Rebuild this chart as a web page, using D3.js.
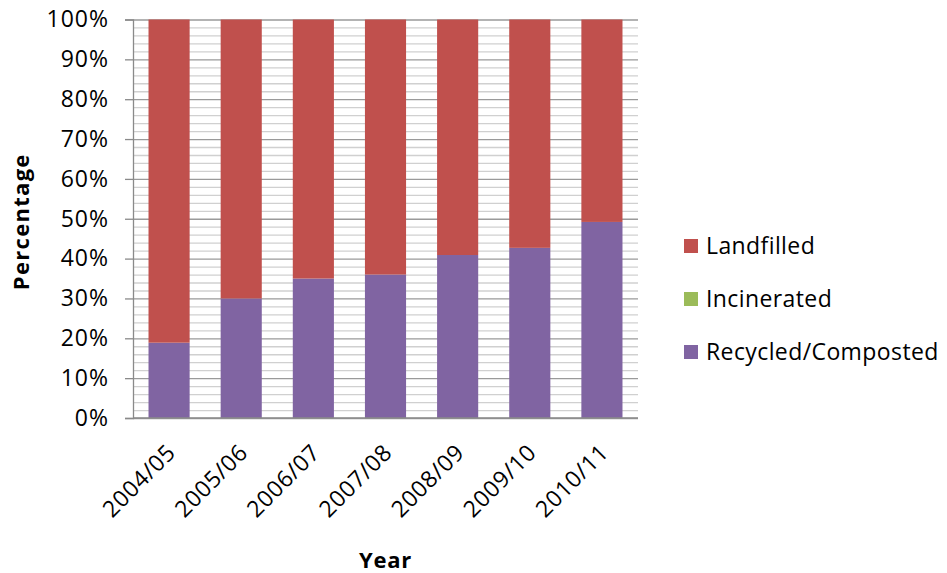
<!DOCTYPE html>
<html>
<head>
<meta charset="utf-8">
<script src="https://cdn.jsdelivr.net/npm/d3@7"></script>
<style>
  html, body { margin: 0; padding: 0; background: #fff; }
  svg { display: block; }
</style>
</head>
<body>
<div id="chart"></div>
<script>
// stacked 100% bars — waste by destination per year

const YEARS       = ['2004/05', '2005/06', '2006/07', '2007/08', '2008/09', '2009/10', '2010/11'];
const RECYCLED    = [18.9, 30.0, 35.0, 36.0, 40.9, 42.7, 49.2];
const INCINERATED = [0, 0, 0, 0, 0, 0, 0];
const LANDFILLED  = [81.1, 70.0, 65.0, 64.0, 59.1, 57.3, 50.8];
const Y_TICKS     = [0, 10, 20, 30, 40, 50, 60, 70, 80, 90, 100];
const LEGEND      = ['Landfilled', 'Incinerated', 'Recycled/Composted'];

const COLORS = {
  'Landfilled':         '#C0504D',
  'Incinerated':        '#9BBB59',
  'Recycled/Composted': '#8064A2'
};

const FONT = "'Open Sans', 'Liberation Sans', sans-serif";

const W = 947, H = 573;
const pl = 133, pr = 638, pt = 19.5, pb = 418;

const rows = YEARS.map((y, i) => ({
  year: y,
  'Recycled/Composted': RECYCLED[i],
  'Incinerated':        INCINERATED[i],
  'Landfilled':         LANDFILLED[i]
}));

const svg = d3.select('#chart').append('svg')
  .attr('width', W)
  .attr('height', H)
  .attr('viewBox', `0 0 ${W} ${H}`);

const x = d3.scaleBand().domain(YEARS).range([pl, pr])
  .paddingInner(0.43).paddingOuter(0.215);
const y = d3.scaleLinear().domain([0, 100]).range([pb, pt]);

// minor grid (every 2%)
const minor = d3.range(0, 101, 2).filter(v => v % 10 !== 0);
svg.append('g')
  .attr('transform', `translate(${pl},0)`)
  .call(d3.axisLeft(y).tickValues(minor).tickSize(-(pr - pl)).tickFormat(''))
  .call(g => g.select('.domain').remove())
  .call(g => g.selectAll('.tick line').attr('stroke', '#d0d0d0').attr('stroke-width', 1.3));

// major grid
svg.append('g')
  .attr('transform', `translate(${pl},0)`)
  .call(d3.axisLeft(y).tickValues(Y_TICKS).tickSize(-(pr - pl)).tickFormat(''))
  .call(g => g.select('.domain').remove())
  .call(g => g.selectAll('.tick line').attr('stroke', '#9a9a9a').attr('stroke-width', 1.3));

// stacked bars
const stack = d3.stack().keys(['Recycled/Composted', 'Incinerated', 'Landfilled']);
svg.append('g')
  .selectAll('g')
  .data(stack(rows))
  .enter().append('g')
  .attr('fill', d => COLORS[d.key])
  .selectAll('rect')
  .data(d => d)
  .enter().append('rect')
  .attr('x', d => x(d.data.year))
  .attr('y', d => y(d[1]))
  .attr('width', x.bandwidth())
  .attr('height', d => y(d[0]) - y(d[1]));

// y axis
svg.append('g')
  .attr('transform', `translate(${pl},0)`)
  .call(d3.axisLeft(y).tickValues(Y_TICKS).tickSize(8).tickPadding(16).tickFormat(d => d + '%'))
  .call(g => g.select('.domain').attr('stroke', '#8a8a8a').attr('stroke-width', 1.3))
  .call(g => g.selectAll('.tick line').attr('stroke', '#8a8a8a').attr('stroke-width', 1.3))
  .call(g => g.selectAll('.tick text')
    .attr('fill', '#000').attr('font-size', '23px').attr('letter-spacing', '1px')
    .attr('font-family', FONT));

// x axis
svg.append('g')
  .attr('transform', `translate(0,${pb})`)
  .call(d3.axisBottom(x).tickSize(0).tickPadding(0))
  .call(g => g.select('.domain').attr('stroke', '#8a8a8a').attr('stroke-width', 1.3)
    .attr('d', `M${pl},0H${pr}`))
  .call(g => g.selectAll('.tick text')
    .attr('fill', '#000').attr('font-size', '23px').attr('letter-spacing', '0.6px')
    .attr('font-family', FONT)
    .attr('text-anchor', 'end')
    .attr('dy', '0')
    .attr('transform', 'translate(8,36) rotate(-45)'));

// axis titles
svg.append('text')
  .attr('x', (pl + pr) / 2).attr('y', 568)
  .attr('text-anchor', 'middle')
  .attr('font-size', '22px').attr('font-weight', 'bold').attr('letter-spacing', '0.8px')
  .attr('font-family', FONT)
  .text('Year');

svg.append('text')
  .attr('transform', `translate(29,${(pt + pb) / 2 + 3}) rotate(-90)`)
  .attr('text-anchor', 'middle')
  .attr('font-size', '22px').attr('font-weight', 'bold').attr('letter-spacing', '1.3px')
  .attr('font-family', FONT)
  .text('Percentage');

// legend
const leg = svg.append('g').attr('transform', 'translate(684,239)');
LEGEND.forEach((name, i) => {
  const row = leg.append('g').attr('transform', `translate(0,${i * 53})`);
  row.append('rect').attr('width', 14).attr('height', 14).attr('fill', COLORS[name]);
  row.append('text')
    .attr('x', 22).attr('y', 7).attr('dy', '0.36em')
    .attr('font-size', '23px').attr('letter-spacing', '0.4px')
    .attr('font-family', FONT)
    .text(name);
});
</script>
</body>
</html>
